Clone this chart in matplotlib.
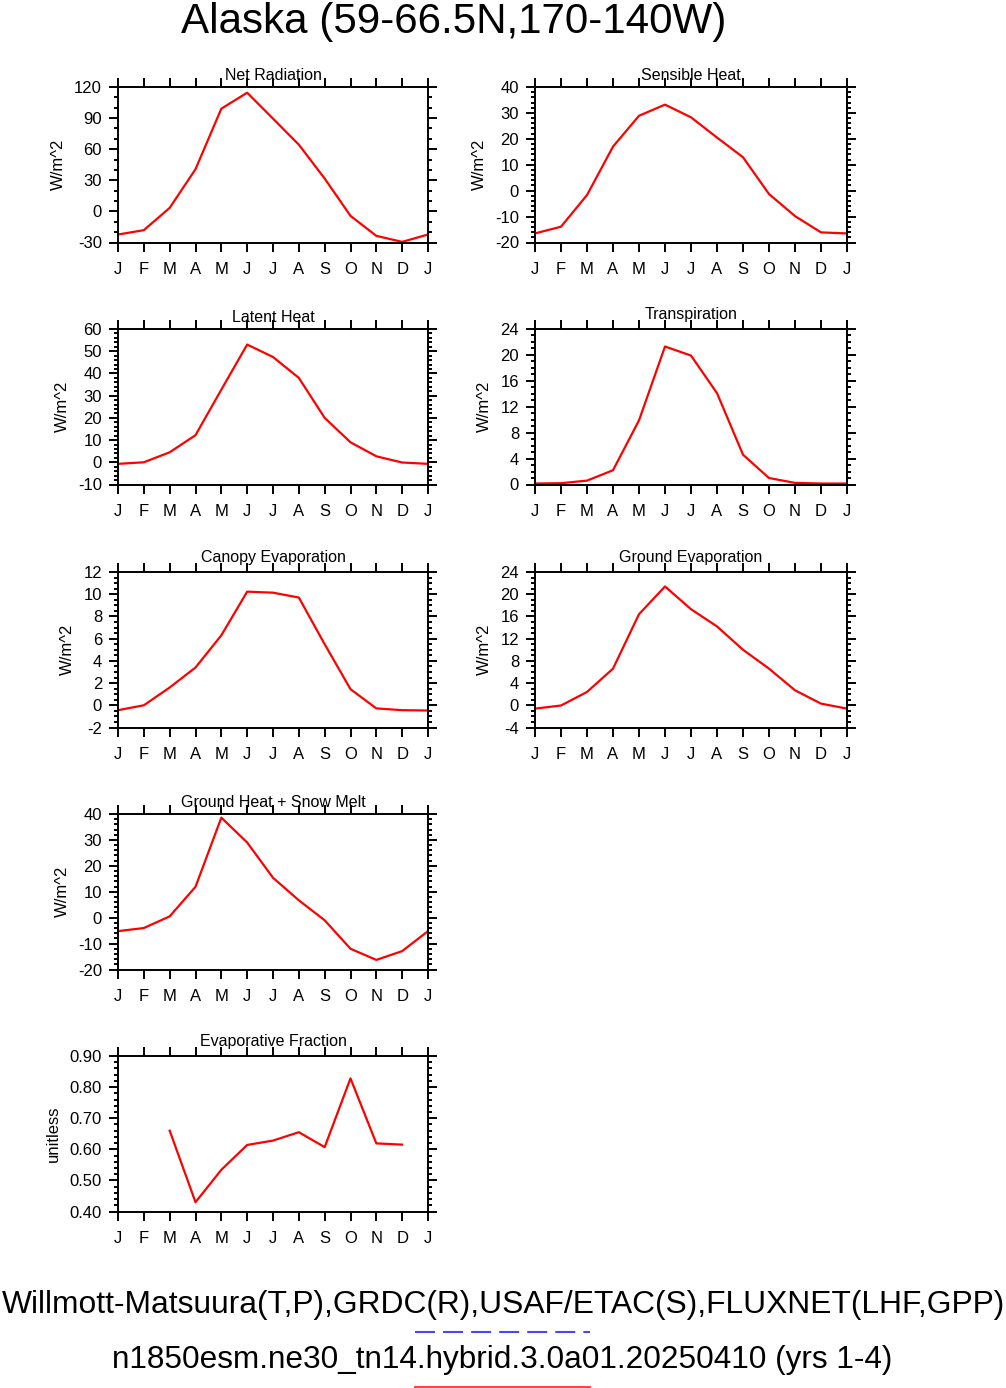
import matplotlib
matplotlib.use('Agg')
import matplotlib.pyplot as plt
from matplotlib.lines import Line2D
from matplotlib.ticker import MultipleLocator, FormatStrFormatter

plt.rcParams['font.family'] = ['Liberation Sans', 'DejaVu Sans']
plt.rcParams['lines.scale_dashes'] = False

# month axis (13 points, January repeated at the end)
month_labels = ['J', 'F', 'M', 'A', 'M', 'J', 'J', 'A', 'S', 'O', 'N', 'D', 'J']
months = list(range(13))
ef_months = list(range(2, 12))   # evaporative fraction only defined Mar-Dec

net_radiation = [-22.3, -18.1, 3.4, 40.7, 99.1, 114.5, 89.5, 64.4, 31.7, -4.3, -23.6, -29.4, -22.3]
sensible_heat = [-16.5, -13.9, -1.7, 17.0, 28.9, 33.2, 28.3, 20.5, 12.9, -1.3, -9.8, -16.1, -16.5]
latent_heat = [-0.7, 0.0, 4.5, 12.2, 32.7, 53.0, 47.4, 38.0, 20.0, 9.0, 2.7, -0.1, -0.7]
transpiration = [0.15, 0.2, 0.6, 2.2, 9.9, 21.3, 19.9, 14.1, 4.6, 1.0, 0.25, 0.15, 0.15]
canopy_evap = [-0.44, 0.0, 1.6, 3.4, 6.3, 10.23, 10.14, 9.7, 5.5, 1.45, -0.28, -0.44, -0.47]
ground_evap = [-0.6, -0.04, 2.4, 6.6, 16.4, 21.4, 17.3, 14.2, 10.0, 6.6, 2.7, 0.3, -0.6]
ground_heat_snow = [-5.2, -4.0, 0.5, 11.9, 38.6, 29.0, 15.4, 6.7, -1.0, -12.0, -16.3, -12.9, -5.2]
evap_fraction = [0.660, 0.430, 0.534, 0.614, 0.628, 0.655, 0.607, 0.828, 0.619, 0.615]

title = 'Alaska (59-66.5N,170-140W)'
obs_line = 'Willmott-Matsuura(T,P),GRDC(R),USAF/ETAC(S),FLUXNET(LHF,GPP)'
case_line = 'n1850esm.ne30_tn14.hybrid.3.0a01.20250410 (yrs 1-4)'

# (title, ylabel, x, y, ylim, major, minor, fmt, column, row)
panels = [
    ('Net Radiation', 'W/m^2', months, net_radiation, (-30, 120), 30, 10, '%d', 0, 0),
    ('Sensible Heat', 'W/m^2', months, sensible_heat, (-20, 40), 10, 2, '%d', 1, 0),
    ('Latent Heat', 'W/m^2', months, latent_heat, (-10, 60), 10, 2, '%d', 0, 1),
    ('Transpiration', 'W/m^2', months, transpiration, (0, 24), 4, 1, '%d', 1, 1),
    ('Canopy Evaporation', 'W/m^2', months, canopy_evap, (-2, 12), 2, 0.5, '%d', 0, 2),
    ('Ground Evaporation', 'W/m^2', months, ground_evap, (-4, 24), 4, 1, '%d', 1, 2),
    ('Ground Heat + Snow Melt', 'W/m^2', months, ground_heat_snow, (-20, 40), 10, 2, '%d', 0, 3),
    ('Evaporative Fraction', 'unitless', ef_months, evap_fraction, (0.4, 0.9), 0.1, 0.02, '%.2f', 0, 4),
]

W, H = 1006, 1388
fig = plt.figure(figsize=(W / 100, H / 100), dpi=100)

col_x = [118, 535]
col_w = [310, 312]
row_top = [87, 329, 572, 814, 1056]
ax_h = 155.5

for name, ylab, x, y, ylim, major, minor, fmt, c, r in panels:
    ax = fig.add_axes([col_x[c] / W, 1 - (row_top[r] + ax_h) / H, col_w[c] / W, ax_h / H])
    ax.plot(x, y, color='red', lw=1.6)
    ax.set_xlim(0, 12)
    ax.set_ylim(*ylim)
    ax.set_xticks(months)
    ax.set_xticklabels(month_labels)
    ax.yaxis.set_major_locator(MultipleLocator(major))
    ax.yaxis.set_minor_locator(MultipleLocator(minor))
    ax.yaxis.set_major_formatter(FormatStrFormatter(fmt))
    ax.tick_params(which='both', direction='out', top=True, right=True, width=1.4)
    ax.tick_params(which='major', length=6.5, labelsize=12, pad=5)
    ax.tick_params(axis='x', which='major', pad=7.5)
    ax.tick_params(which='minor', length=3)
    ax.tick_params(axis='x', which='minor', bottom=False, top=False)
    for sp in ax.spines.values():
        sp.set_linewidth(1.4)
    ax.set_ylabel(ylab, fontsize=12, labelpad=6)
    # titles with descenders sit a little higher, like in the original
    off = 7.5 if any(ch in name for ch in 'gjpqy') else 5
    ax.annotate(name, xy=(0.5, 1), xycoords='axes fraction', xytext=(0, off),
                textcoords='offset points', ha='center', va='baseline', fontsize=11.5)

fig.text(453.5 / W, 1 - 33 / H, title, ha='center', va='baseline', fontsize=30.3)
fig.text(0.5, 1 - 1313 / H, obs_line, ha='center', va='baseline', fontsize=22.9)
fig.text(502.5 / W, 1 - 1368 / H, case_line, ha='center', va='baseline', fontsize=22.7)

# little key lines under the two text lines
fig.add_artist(Line2D([415 / W, 590 / W], [1 - 1332 / H] * 2, transform=fig.transFigure,
                      color='#4646ff', lw=1.5, dashes=(14.4, 5.8)))
fig.add_artist(Line2D([415 / W, 590 / W], [1 - 1386.5 / H] * 2, transform=fig.transFigure,
                      color='#ff4646', lw=1.5))

fig.savefig('out.png', dpi=100)
